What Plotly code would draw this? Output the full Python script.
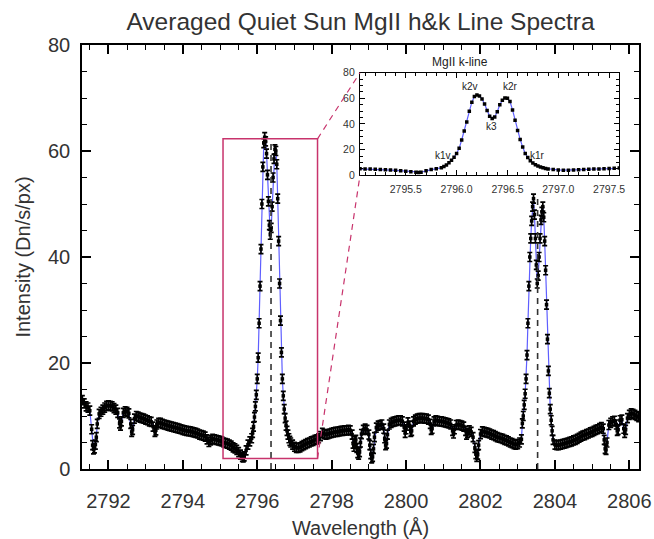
import plotly.graph_objects as go

# ---------------- data ----------------
WL_CONT_LEFT = [2791.30, 2791.35, 2791.40, 2791.45, 2791.50, 2791.55, 2791.575, 2791.60, 2791.625, 2791.65,
                2791.675, 2791.70, 2791.75, 2791.80, 2791.85, 2791.90, 2791.95, 2792.00, 2792.05, 2792.10,
                2792.15, 2792.20, 2792.25, 2792.30, 2792.325, 2792.35, 2792.40, 2792.45, 2792.50, 2792.55,
                2792.60, 2792.625, 2792.65, 2792.70, 2792.75, 2792.80, 2792.85, 2792.90, 2792.95, 2793.00,
                2793.05, 2793.10, 2793.15, 2793.20, 2793.25, 2793.275, 2793.30, 2793.35, 2793.40, 2793.45,
                2793.50, 2793.55, 2793.60, 2793.65, 2793.70, 2793.75, 2793.80, 2793.85, 2793.90, 2793.95,
                2794.00, 2794.05, 2794.10, 2794.15, 2794.20, 2794.25, 2794.30, 2794.35, 2794.40, 2794.45,
                2794.50, 2794.55, 2794.60, 2794.65, 2794.70, 2794.75, 2794.80, 2794.85, 2794.90, 2794.95,
                2795.00, 2795.05, 2795.10, 2795.15, 2795.20, 2795.25, 2795.30, 2795.35, 2795.40, 2795.45,
                2795.50, 2795.55, 2795.60, 2795.625, 2795.65, 2795.70, 2795.75, 2795.80, 2795.85]
INT_CONT_LEFT = [13.0, 12.4, 11.8, 11.6, 11.0, 7.5, 4.5, 3.7, 3.9, 4.6,
                 6.0, 8.5, 10.4, 10.8, 11.2, 11.6, 11.9, 12.0, 11.9, 11.8,
                 11.5, 11.2, 10.6, 8.6, 8.2, 9.0, 10.6, 10.9, 10.8, 10.5,
                 8.5, 7.0, 7.4, 9.5, 10.0, 9.9, 9.7, 9.6, 9.5, 9.3,
                 9.2, 9.0, 8.9, 8.0, 7.0, 7.3, 8.4, 8.7, 8.7, 8.5,
                 8.4, 8.3, 8.2, 8.1, 8.0, 7.9, 7.8, 7.7, 7.6, 7.5,
                 7.4, 7.3, 7.2, 7.15, 7.1, 7.0, 6.9, 6.8, 6.7, 6.5,
                 6.4, 6.3, 6.1, 5.6, 5.1, 5.4, 5.7, 5.6, 5.5, 5.4,
                 5.3, 5.2, 5.0, 4.9, 4.8, 4.6, 4.4, 4.1, 3.9, 3.6,
                 3.2, 2.7, 2.3, 2.2, 2.4, 3.5, 4.6, 5.2, 5.8]

WL_K_LINE = [2795.875, 2795.900, 2795.925, 2795.950, 2795.975, 2796.000, 2796.025, 2796.050, 2796.075, 2796.100,
             2796.125, 2796.150, 2796.175, 2796.200, 2796.225, 2796.250, 2796.275, 2796.300, 2796.325, 2796.350,
             2796.375, 2796.400, 2796.425, 2796.450, 2796.475, 2796.500, 2796.525, 2796.550, 2796.575, 2796.600,
             2796.625, 2796.650, 2796.675, 2796.700, 2796.725, 2796.750, 2796.775, 2796.800, 2796.825, 2796.850,
             2796.875, 2796.900]
INT_K_LINE = [6.8, 8.0, 9.8, 11.8, 14.0, 17.0, 21.0, 27.5, 34.5, 41.5,
              50.0, 57.0, 61.5, 62.6, 61.8, 59.5, 55.5, 50.5, 46.0, 44.2,
              45.5, 49.5, 55.0, 58.5, 60.3, 60.0, 57.5, 51.0, 43.0, 35.0,
              28.0, 22.0, 17.0, 13.8, 11.3, 9.6, 8.2, 7.2, 6.5, 5.8,
              5.3, 5.0]

WL_CONT_MID = [2796.95, 2797.00, 2797.05, 2797.10, 2797.15, 2797.20, 2797.25, 2797.30, 2797.35, 2797.40,
               2797.45, 2797.50, 2797.55, 2797.60, 2797.65, 2797.70, 2797.75, 2797.80, 2797.85, 2797.90,
               2797.95, 2798.00, 2798.05, 2798.10, 2798.15, 2798.20, 2798.25, 2798.30, 2798.35, 2798.40,
               2798.45, 2798.50, 2798.55, 2798.575, 2798.60, 2798.625, 2798.65, 2798.675, 2798.70, 2798.725,
               2798.75, 2798.775, 2798.80, 2798.85, 2798.90, 2798.95, 2799.00, 2799.025, 2799.05, 2799.075,
               2799.10, 2799.125, 2799.15, 2799.20, 2799.25, 2799.30, 2799.35, 2799.40, 2799.425, 2799.45,
               2799.475, 2799.50, 2799.55, 2799.60, 2799.65, 2799.70, 2799.75, 2799.80, 2799.85, 2799.90,
               2799.95, 2799.975, 2800.00, 2800.05, 2800.10, 2800.125, 2800.15, 2800.20, 2800.25, 2800.30,
               2800.35, 2800.40, 2800.45, 2800.50, 2800.55, 2800.60, 2800.65, 2800.675, 2800.70, 2800.75,
               2800.80, 2800.85, 2800.90, 2800.95, 2801.00, 2801.05, 2801.10, 2801.15, 2801.20, 2801.25,
               2801.275, 2801.30, 2801.35, 2801.40, 2801.45, 2801.50, 2801.55, 2801.60, 2801.625, 2801.65,
               2801.70, 2801.75, 2801.80, 2801.85, 2801.875, 2801.90, 2801.925, 2801.95, 2802.00, 2802.05,
               2802.10, 2802.15, 2802.20, 2802.25, 2802.30, 2802.35, 2802.40, 2802.45, 2802.50, 2802.55,
               2802.60, 2802.65, 2802.70, 2802.75, 2802.80, 2802.85, 2802.90, 2802.95, 2803.00, 2803.05,
               2803.10]
INT_CONT_MID = [4.6, 4.2, 4.0, 4.0, 4.1, 4.3, 4.5, 4.7, 4.9, 5.0,
                5.2, 5.3, 5.5, 5.6, 5.8, 6.2, 6.8, 6.6, 6.5, 6.6,
                6.7, 6.8, 6.9, 7.0, 7.0, 7.1, 7.2, 7.2, 7.3, 7.3,
                7.4, 7.3, 6.5, 4.8, 4.2, 5.2, 5.5, 4.0, 3.0, 2.7,
                3.2, 5.0, 6.6, 7.4, 7.6, 7.4, 6.5, 4.5, 2.8, 2.0,
                2.3, 3.8, 6.0, 7.8, 8.2, 8.3, 8.4, 7.6, 5.8, 4.5,
                4.8, 6.5, 8.4, 8.7, 8.9, 9.0, 9.1, 9.2, 9.2, 9.0,
                8.0, 6.8, 7.5, 8.8, 8.2, 7.0, 7.2, 9.0, 9.3, 9.5,
                9.6, 9.6, 9.6, 9.5, 9.5, 9.3, 8.5, 7.4, 7.6, 9.0,
                9.2, 9.1, 9.0, 9.0, 8.9, 8.8, 8.7, 8.6, 8.4, 7.2,
                6.7, 7.5, 8.3, 8.4, 8.3, 8.2, 8.0, 7.2, 6.5, 6.8,
                7.3, 7.0, 6.0, 4.0, 2.8, 2.3, 2.7, 4.5, 6.6, 7.1,
                7.0, 6.9, 6.8, 6.7, 6.5, 6.4, 6.2, 6.0, 5.9, 5.8,
                5.7, 5.5, 5.4, 5.2, 5.0, 4.9, 4.7, 4.6, 4.7, 5.0,
                5.6]

WL_H_LINE = [2803.125, 2803.150, 2803.175, 2803.200, 2803.225, 2803.250, 2803.275, 2803.300, 2803.325, 2803.350,
             2803.375, 2803.400, 2803.425, 2803.450, 2803.475, 2803.500, 2803.525, 2803.550, 2803.575, 2803.600,
             2803.625, 2803.650, 2803.675, 2803.700, 2803.725, 2803.750, 2803.775, 2803.800, 2803.825, 2803.850,
             2803.875, 2803.900, 2803.925, 2803.950]
INT_H_LINE = [8.6, 10.0, 12.1, 14.2, 17.0, 21.5, 27.5, 34.5, 40.0, 43.5,
              46.8, 49.5, 51.0, 48.0, 43.5, 38.5, 35.0, 36.5, 40.0, 43.5,
              47.0, 48.5, 49.5, 47.5, 43.0, 37.5, 31.0, 24.5, 18.5, 14.3,
              11.3, 9.2, 7.2, 5.5]

WL_CONT_RIGHT = [2804.00, 2804.05, 2804.10, 2804.15, 2804.20, 2804.25, 2804.30, 2804.35, 2804.40, 2804.45,
                 2804.50, 2804.55, 2804.60, 2804.65, 2804.70, 2804.75, 2804.80, 2804.85, 2804.90, 2804.95,
                 2805.00, 2805.05, 2805.10, 2805.15, 2805.20, 2805.25, 2805.30, 2805.325, 2805.35, 2805.375,
                 2805.40, 2805.45, 2805.50, 2805.55, 2805.60, 2805.65, 2805.675, 2805.70, 2805.75, 2805.80,
                 2805.85, 2805.875, 2805.90, 2805.95, 2806.00, 2806.05, 2806.10, 2806.15, 2806.20, 2806.25]
INT_CONT_RIGHT = [4.6, 4.5, 4.5, 4.6, 4.7, 4.8, 4.9, 5.0, 5.1, 5.2,
                  5.4, 5.5, 5.7, 5.9, 6.1, 6.3, 6.4, 6.6, 6.7, 6.9,
                  7.0, 7.2, 7.4, 7.5, 7.7, 7.9, 7.6, 5.5, 3.8, 3.6,
                  5.0, 8.3, 8.7, 9.0, 9.1, 8.4, 7.2, 7.4, 9.2, 9.3,
                  7.6, 6.8, 7.4, 9.6, 10.2, 10.5, 10.4, 10.2, 10.0, 9.8]

ERROR_BAR = 0.85                     # +/- intensity error on each point
K3_WL, K_PEAK = 2796.37, 62.4        # dashed marker of the k-line centre
H3_WL, H_PEAK = 2803.535, 51.8       # dashed marker of the h-line centre
ZOOM_BOX = dict(x0=2795.08, x1=2797.62, y0=2.0, y1=62.3)
INSET_LABELS = ["k1v", "k2v", "k3", "k2r", "k1r"]
INSET_LABEL_POS = [(2795.87, 15.8), (2796.13, 69.6), (2796.345, 37.9), (2796.53, 69.6), (2796.80, 15.8)]

wl = WL_CONT_LEFT + WL_K_LINE + WL_CONT_MID + WL_H_LINE + WL_CONT_RIGHT
inten = INT_CONT_LEFT + INT_K_LINE + INT_CONT_MID + INT_H_LINE + INT_CONT_RIGHT

# ---------------- layout constants ----------------
XR = [2791.29, 2806.26]
YR = [0, 80]
IXR = [2795.05, 2797.60]
IYR = [0, 80]
IN_XD = [0.4991, 0.9646]
IN_YD = [0.6927, 0.9347]
FONT = "Liberation Sans, Arial, Helvetica, sans-serif"
BLUE = "#5f5fff"
RED = "#c8336c"

fig = go.Figure()

# main spectrum: blue line + black points with error bars
fig.add_trace(go.Scatter(x=wl, y=inten, mode="lines", line=dict(color=BLUE, width=1.2),
                         hoverinfo="skip", showlegend=False))
fig.add_trace(go.Scatter(x=wl, y=inten, mode="markers",
                         marker=dict(symbol="square", size=3.5, color="black"),
                         error_y=dict(type="constant", value=ERROR_BAR, color="black",
                                      thickness=1.7, width=2.5),
                         showlegend=False))

# dashed line-centre markers
for xc, top in [(K3_WL, K_PEAK), (H3_WL, H_PEAK)]:
    fig.add_trace(go.Scatter(x=[xc, xc], y=[0, top], mode="lines",
                             line=dict(color="#333333", width=1.6, dash="6px,5px"),
                             hoverinfo="skip", showlegend=False))

# inset
fig.add_trace(go.Scatter(x=wl, y=inten, mode="lines", line=dict(color=BLUE, width=1.2),
                         xaxis="x2", yaxis="y2", hoverinfo="skip", showlegend=False))
fig.add_trace(go.Scatter(x=wl, y=inten, mode="markers",
                         marker=dict(symbol="square", size=3.5, color="black"),
                         xaxis="x2", yaxis="y2", showlegend=False))

axis_common = dict(showgrid=False, zeroline=False, showline=True, linecolor="black",
                   mirror="allticks", ticks="inside", tickcolor="black", automargin=False)

fig.update_layout(
    width=654, height=539,
    margin=dict(l=82, r=15, t=45, b=70),
    paper_bgcolor="white", plot_bgcolor="white",
    font=dict(family=FONT, color="#333333"),
    title=dict(text="Averaged Quiet Sun MgII h&k Line Spectra", x=0.5, xref="paper",
               y=1 - 21 / 539, yref="container", yanchor="middle", xanchor="center",
               font=dict(size=24.5, color="#333333", family=FONT)),
    xaxis=dict(range=XR, domain=[0, 1], tick0=2792, dtick=2, ticklen=9, tickwidth=1.5,
               linewidth=1.5, tickfont=dict(size=20, color="#333333"), ticklabelstandoff=13,
               minor=dict(dtick=0.5, ticklen=5, tickwidth=1.2, ticks="inside", tickcolor="black",
                          showgrid=False),
               title=dict(text="Wavelength (Å)", font=dict(size=20, color="#333333"), standoff=14),
               **axis_common),
    yaxis=dict(range=YR, domain=[0, 1], tick0=0, dtick=20, ticklen=9, tickwidth=1.5,
               linewidth=1.5, tickfont=dict(size=20, color="#333333"), ticklabelstandoff=6,
               minor=dict(dtick=5, ticklen=5, tickwidth=1.2, ticks="inside", tickcolor="black",
                          showgrid=False),
               title=dict(text="Intensity (Dn/s/px)", font=dict(size=20, color="#333333"), standoff=12),
               **axis_common),
    xaxis2=dict(range=IXR, domain=IN_XD, anchor="y2", tick0=2795.5, dtick=0.5, tickformat=".1f",
                ticklen=5, tickwidth=1, linewidth=1.2, tickfont=dict(size=10.5, color="#333333"),
                ticklabelstandoff=4,
                minor=dict(dtick=0.1, ticklen=3, tickwidth=1, ticks="inside", tickcolor="black",
                           showgrid=False),
                **axis_common),
    yaxis2=dict(range=IYR, domain=IN_YD, anchor="x2", tick0=0, dtick=20,
                ticklen=5, tickwidth=1, linewidth=1.2, tickfont=dict(size=10.5, color="#333333"),
                ticklabelstandoff=2,
                minor=dict(dtick=5, ticklen=3, tickwidth=1, ticks="inside", tickcolor="black",
                           showgrid=False),
                **axis_common),
)

# zoom rectangle in main plot
fig.add_shape(type="rect", xref="x", yref="y", line=dict(color=RED, width=1.5),
              fillcolor="rgba(0,0,0,0)", layer="above", **ZOOM_BOX)

# connectors from zoom box to inset (paper coords)
def px(v):
    return (v - XR[0]) / (XR[1] - XR[0])

def py(v):
    return (v - YR[0]) / (YR[1] - YR[0])

fig.add_shape(type="line", xref="paper", yref="paper",
              x0=px(ZOOM_BOX["x1"]), y0=py(ZOOM_BOX["y1"]), x1=IN_XD[0], y1=IN_YD[1],
              line=dict(color=RED, width=1.2, dash="6px,5px"), layer="above")
fig.add_shape(type="line", xref="paper", yref="paper",
              x0=px(ZOOM_BOX["x1"]), y0=py(ZOOM_BOX["y0"]), x1=IN_XD[0], y1=IN_YD[0],
              line=dict(color=RED, width=1.2, dash="6px,5px"), layer="above")

# inset title and labels
fig.add_annotation(text="MgII k-line", xref="paper", yref="paper",
                   x=(IN_XD[0] + IN_XD[1]) / 2, y=IN_YD[1] + 0.026, showarrow=False,
                   font=dict(size=12, color="#222222"), yanchor="middle")
for lab, (lx, ly) in zip(INSET_LABELS, INSET_LABEL_POS):
    fig.add_annotation(text=lab, x=lx, y=ly, xref="x2", yref="y2", showarrow=False,
                       font=dict(size=10, color="#222222"))

fig.write_html("out.html")
